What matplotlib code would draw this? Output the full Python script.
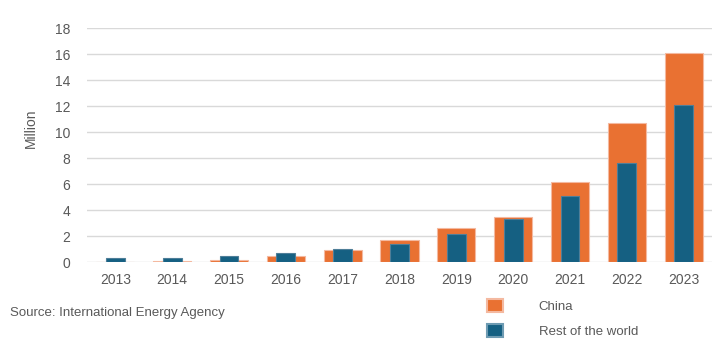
import numpy as np
import matplotlib.pyplot as plt
from matplotlib.patches import Patch

plt.rcParams['font.family'] = ['Liberation Sans', 'DejaVu Sans']

years = ['2013', '2014', '2015', '2016', '2017', '2018', '2019', '2020', '2021', '2022', '2023']
china = [0.02, 0.07, 0.17, 0.47, 0.9, 1.69, 2.59, 3.49, 6.18, 10.67, 16.1]
rest = [0.28, 0.28, 0.47, 0.69, 1.0, 1.36, 2.15, 3.28, 5.05, 7.59, 12.1]

orange = '#E97132'
blue = '#156082'
txt = '#595959'

fig = plt.figure(figsize=(7.26, 3.61), dpi=100)
ax = fig.add_axes([0.1198, 0.274, 0.861, 0.6484])

x = np.arange(len(years))
ax.bar(x, china, width=0.67, color=orange, edgecolor='#F4B9A0', linewidth=0.8, zorder=2)
ax.bar(x, rest, width=0.33, color=blue, edgecolor='#4E7E98', linewidth=0.8, zorder=3)

ax.set_xlim(-0.5, len(years) - 0.5)
ax.set_ylim(0, 18)
ax.set_yticks(range(0, 19, 2))
ax.set_xticks(x)
ax.set_xticklabels(years)
ax.grid(axis='y', color='#D9D9D9', linewidth=1, zorder=0)
ax.set_axisbelow(True)
for s in ax.spines.values():
    s.set_visible(False)
ax.tick_params(length=0, labelsize=10, colors=txt, pad=8)
ax.tick_params(axis='y', pad=12)
ax.set_ylabel('Million', fontsize=10, color=txt, labelpad=12)
ax.yaxis.label.set_y(0.57)

fig.text(0.014, 0.133, 'Source: International Energy Agency', fontsize=9.5, color=txt,
         va='center', ha='left')

handles = [Patch(facecolor=orange, edgecolor='#F4B9A0', linewidth=1.5),
           Patch(facecolor=blue, edgecolor='#6E9BB2', linewidth=1.5)]
fig.legend(handles, ['China', 'Rest of the world'], loc='upper left',
           bbox_to_anchor=(0.655, 0.205), frameon=False,
           handlelength=1.2, handleheight=1.2, handletextpad=2.7, labelspacing=0.8,
           labelcolor=txt, prop={'size': 9.5})

fig.savefig('out.png', dpi=100)
